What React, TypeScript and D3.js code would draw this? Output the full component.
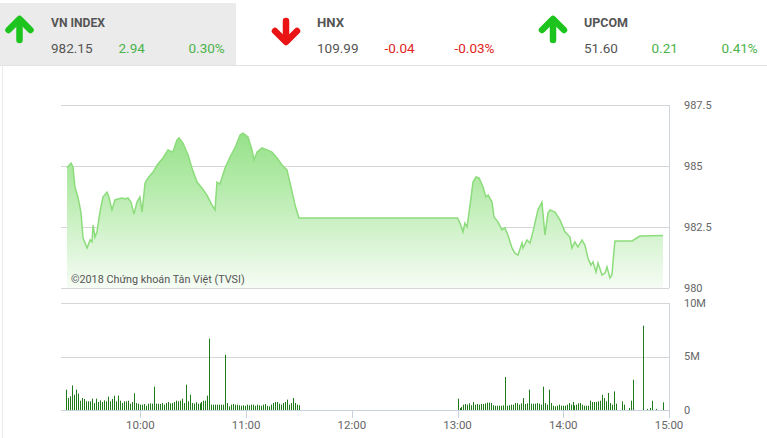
import React from "react";
import * as d3 from "d3";

// ---- Data ----
const indexNames = ["VN INDEX", "HNX", "UPCOM"];
const indexValues = ["982.15", "109.99", "51.60"];
const indexChanges = ["2.94", "-0.04", "0.21"];
const indexPcts = ["0.30%", "-0.03%", "0.41%"];
const indexUp = [true, false, true];

// price series: minutes after 9:00, index value
const priceTimes = [
  18.4, 20.7, 21.8, 22.9, 24.6, 26.3, 27.5, 29.8, 31.5, 32.6, 33.2, 34.3, 35.4, 37.1, 38.8, 41.1, 42.2, 43.9, 45.6, 47.3,
  49.6, 51.3, 53.0, 54.7, 56.4, 58.1, 59.8, 61.0, 62.7, 64.4, 67.2, 70.0, 72.9, 75.7, 78.5, 80.8, 82.0, 84.2, 87.1, 89.3,
  92.2, 95.0, 97.8, 100.7, 102.4, 103.5, 105.2, 108.1, 110.9, 113.7, 116.6, 118.3, 121.1, 123.4, 124.5, 126.2, 129.0, 131.9, 134.7, 137.6,
  140.4, 143.2, 145.5, 147.8, 150.0,
  240.0, 241.4, 243.1, 244.2, 245.4, 247.1, 248.8, 250.5, 252.2, 254.5, 256.1, 257.3, 259.6, 260.7, 263.0, 265.2, 266.9, 268.6, 270.9, 272.6,
  274.3, 276.6, 277.1, 279.4, 281.1, 282.8, 285.6, 287.9, 289.6, 291.3, 292.5, 295.3, 298.1, 301.0, 303.8, 304.9, 306.6, 308.3, 310.6, 312.3,
  314.0, 315.7, 316.9, 318.6, 319.7, 322.0, 323.7, 324.8, 326.5, 327.6, 329.3, 339.0, 343.5, 356.6,
];
const priceValues = [
  984.92, 985.12, 984.96, 984.14, 983.73, 983.11, 982.05, 981.64, 981.97, 981.89, 982.58, 982.09, 982.30, 983.11, 983.73, 983.93, 983.73, 983.20, 983.61, 983.65,
  983.69, 983.65, 983.69, 983.52, 983.03, 983.52, 983.73, 983.11, 984.30, 984.51, 984.75, 985.08, 985.33, 985.66, 985.57, 986.07, 986.15, 985.94, 985.45, 984.92,
  984.34, 984.10, 983.81, 983.40, 983.20, 984.34, 984.26, 984.92, 985.37, 985.74, 986.27, 986.35, 986.19, 985.66, 985.25, 985.57, 985.74, 985.66, 985.57, 985.33,
  985.04, 984.84, 984.14, 983.40, 982.87,
  982.87, 982.66, 982.30, 982.66, 982.50, 983.40, 984.34, 984.55, 984.51, 984.14, 983.73, 983.81, 983.52, 982.91, 982.70, 982.38, 982.46, 982.17, 981.64, 981.43,
  981.35, 981.84, 981.64, 981.97, 981.84, 982.30, 983.20, 983.52, 982.17, 983.07, 983.20, 983.11, 982.79, 982.30, 982.09, 981.64, 981.89, 981.68, 981.97, 981.76,
  981.23, 980.94, 981.07, 980.66, 981.02, 980.53, 980.61, 980.86, 980.41, 980.53, 981.93, 981.93, 982.13, 982.15,
];

// volume (millions) per interval in each session
const morningStart = 18;
const morningEnd = 150;
const volMorning = [
  1.9, 1.12, 1.28, 2.3, 1.43, 1.9, 1.53, 0.87, 1.12, 1.03,
  0.81, 0.81, 0.81, 1.06, 0.65, 1.06, 0.75, 0.9, 0.75, 0.9,
  0.81, 1.25, 0.81, 1.03, 1.34, 0.81, 1.34, 0.87, 0.65, 0.81,
  0.81, 0.87, 0.59, 0.75, 1.56, 0.65, 0.59, 0.5, 0.5, 0.56,
  0.4, 0.59, 0.62, 0.59, 2.18, 0.59, 0.59, 0.56, 0.65, 0.5,
  0.65, 0.75, 0.62, 0.65, 0.75, 0.87, 0.81, 0.87, 1.06, 0.65,
  2.37, 0.81, 1.43, 0.65, 0.59, 0.72, 0.59, 0.62, 0.75, 0.87,
  0.87, 1.34, 6.67, 0.5, 0.5, 0.5, 0.5, 0.5, 0.5, 0.5,
  5.17, 0.65, 0.34, 0.5, 0.56, 0.5, 0.5, 0.44, 0.4, 0.44,
  0.4, 0.5, 0.44, 0.5, 0.5, 0.4, 0.5, 0.44, 0.4, 0.5,
  0.56, 0.4, 0.34, 0.5, 0.65, 0.75, 0.75, 0.59, 0.5, 0.65,
  0.75, 0.97, 0.5, 0.65, 1.12, 0.65, 0.5, 0.44,
];
const afternoonStart = 240;
const afternoonEnd = 330;
const volAfternoon = [
  1.06, 0.19, 0.28, 0.5, 0.56, 0.5, 0.62, 0.44, 0.75, 0.5,
  0.56, 0.5, 0.56, 0.56, 0.62, 0.69, 0.69, 0.65, 0.44, 0.4,
  0.4, 0.4, 0.4, 0.44, 3.08, 0.4, 0.44, 0.5, 0.5, 0.65,
  0.65, 0.5, 0.62, 1.12, 0.56, 0.62, 1.9, 0.59, 0.59, 0.59,
  0.65, 0.59, 0.5, 2.18, 0.65, 0.5, 1.9, 0.65, 0.4, 0.34,
  0.4, 0.5, 0.4, 0.4, 0.4, 0.5, 0.65, 0.5, 0.75, 0.44,
  0.5, 0.62, 0.65, 0.5, 0.4, 0.4, 0.4, 0.87, 0.75, 0.75,
  0.75, 0.81, 0.87, 1.43, 1.12, 0.81, 1.59, 0.65, 0.5, 1.74, 0.59,
];
const volLateTimes = [333.5, 334.6, 337.3, 338.6, 339.7, 345.1, 347.7, 349.0, 350.5, 352.4, 356.8];
const volLate = [0.81, 0.5, 0.19, 0.87, 2.83, 7.88, 0.1, 0.19, 0.87, 0.1, 0.72];

const priceTicks = [980, 982.5, 985, 987.5];
const volTicks = [0, 5, 10];
const volTickLabels = ["0", "5M", "10M"];
const hourTicks = [60, 120, 180, 240, 300, 360];
const hourLabels = ["10:00", "11:00", "12:00", "13:00", "14:00", "15:00"];

// ---- Layout ----
const W = 767;
const H = 438;
const x = d3.scaleLinear().domain([15, 360]).range([61, 669]);
const yP = d3.scaleLinear().domain([980, 987.5]).range([288, 105]);
const yV = d3.scaleLinear().domain([0, 10]).range([410, 303]);

const FONT = "Roboto, 'Noto Sans', sans-serif";

function Arrow({ cx, up, color }: { cx: number; up: boolean; color: string }) {
  const top = 19;
  const bot = 42;
  if (up) {
    return (
      <g stroke={color} strokeWidth={6.5} strokeLinecap="round" strokeLinejoin="round" fill="none">
        <path d={`M${cx},${top + 3}L${cx},${bot - 2}`} />
        <path d={`M${cx - 11},${top + 11}L${cx},${top}L${cx + 11},${top + 11}`} />
      </g>
    );
  }
  return (
    <g stroke={color} strokeWidth={6.5} strokeLinecap="round" strokeLinejoin="round" fill="none">
      <path d={`M${cx},${top + 2}L${cx},${bot - 3}`} />
      <path d={`M${cx - 11},${bot - 11}L${cx},${bot}L${cx + 11},${bot - 11}`} />
    </g>
  );
}

export default function App() {
  const pts: [number, number][] = priceTimes.map((t, i) => [t, priceValues[i]]);
  const area = d3
    .area<[number, number]>()
    .x((d) => x(d[0]))
    .y0(yP(980))
    .y1((d) => yP(d[1]));
  const line = d3
    .line<[number, number]>()
    .x((d) => x(d[0]))
    .y((d) => yP(d[1]));

  const bars: { t: number; v: number }[] = [];
  volMorning.forEach((v, i) =>
    bars.push({ t: morningStart + (i * (morningEnd - morningStart)) / (volMorning.length - 1), v })
  );
  volAfternoon.forEach((v, i) =>
    bars.push({ t: afternoonStart + (i * (afternoonEnd - afternoonStart)) / (volAfternoon.length - 1), v })
  );
  volLate.forEach((v, i) => bars.push({ t: volLateTimes[i], v }));

  const headerX = [51, 317, 584];
  const arrowX = [19.5, 286, 553];
  const green = "#4cb34c";
  const red = "#e02424";

  return (
    <svg
      width={W}
      height={H}
      style={{ position: "absolute", left: 0, top: 0, background: "#fff" }}
      fontFamily={FONT}
    >
      <defs>
        <linearGradient id="pg" gradientUnits="userSpaceOnUse" x1="0" y1={yP(987.5)} x2="0" y2={yP(980)}>
          <stop offset="0" stopColor="#86dc78" />
          <stop offset="0.45" stopColor="#b5ebab" />
          <stop offset="1" stopColor="#f6fcf5" />
        </linearGradient>
      </defs>

      {/* header */}
      <rect x={0} y={3} width={236} height={62} fill="#ebebeb" />
      <line x1={0} x2={W} y1={65.5} y2={65.5} stroke="#e2e2e2" />
      <line x1={2.5} x2={2.5} y1={66} y2={H} stroke="#ececec" />
      {indexNames.map((n, i) => (
        <g key={n}>
          <Arrow cx={arrowX[i]} up={indexUp[i]} color={indexUp[i] ? "#1dc41d" : "#ea1414"} />
          <text x={headerX[i]} y={27} fontSize={13.5} fontWeight={700} fill="#555" textLength={n.length > 3 ? (n === "VN INDEX" ? 54 : 44) : 27} lengthAdjust="spacingAndGlyphs">
            {n}
          </text>
          <text x={headerX[i]} y={53} fontSize={13.5} fill="#555">
            {indexValues[i]}
          </text>
          <text x={headerX[i] + 67.5} y={53} fontSize={13.5} fill={indexUp[i] ? green : red}>
            {indexChanges[i]}
          </text>
          <text x={headerX[i] + 137.5} y={53} fontSize={13.5} fill={indexUp[i] ? green : red}>
            {indexPcts[i]}
          </text>
        </g>
      ))}

      {/* price panel */}
      {priceTicks.map((t) => (
        <g key={t}>
          <line x1={61} x2={669} y1={Math.round(yP(t)) + 0.5} y2={Math.round(yP(t)) + 0.5} stroke="#d6d6d6" />
          <text x={684} y={yP(t)} dy="0.35em" fontSize={11} fill="#666">
            {t}
          </text>
        </g>
      ))}
      <path d={area(pts) || ""} fill="url(#pg)" />
      <path d={line(pts) || ""} fill="none" stroke="#8cdc7c" strokeWidth={1.5} />
      <line x1={669.5} x2={669.5} y1={105} y2={288} stroke="#cfd6dc" />
      <text x={71} y={283} fontSize={10.8} fill="#555">
        ©2018 Chứng khoán Tân Việt (TVSI)
      </text>

      {/* volume panel */}
      {volTicks.map((t, i) => (
        <g key={t}>
          <line
            x1={61}
            x2={669}
            y1={Math.round(yV(t)) + 0.5}
            y2={Math.round(yV(t)) + 0.5}
            stroke={t === 0 ? "#c8d2dc" : "#d6d6d6"}
          />
          <text x={684} y={yV(t)} dy="0.35em" fontSize={11} fill="#666">
            {volTickLabels[i]}
          </text>
        </g>
      ))}
      <line x1={669.5} x2={669.5} y1={303} y2={410} stroke="#cfd6dc" />
      {bars.map((b, i) => (
        <rect
          key={i}
          x={Math.round(x(b.t))}
          y={yV(b.v)}
          width={1}
          height={yV(0) - yV(b.v)}
          fill="#1f7a1a"
        />
      ))}
      {hourTicks.map((t, i) => (
        <g key={t}>
          <line x1={Math.round(x(t)) + 0.5} x2={Math.round(x(t)) + 0.5} y1={410} y2={418} stroke="#c8d2dc" />
          <text x={x(t)} y={429} textAnchor="middle" fontSize={11.5} fill="#666">
            {hourLabels[i]}
          </text>
        </g>
      ))}
    </svg>
  );
}
